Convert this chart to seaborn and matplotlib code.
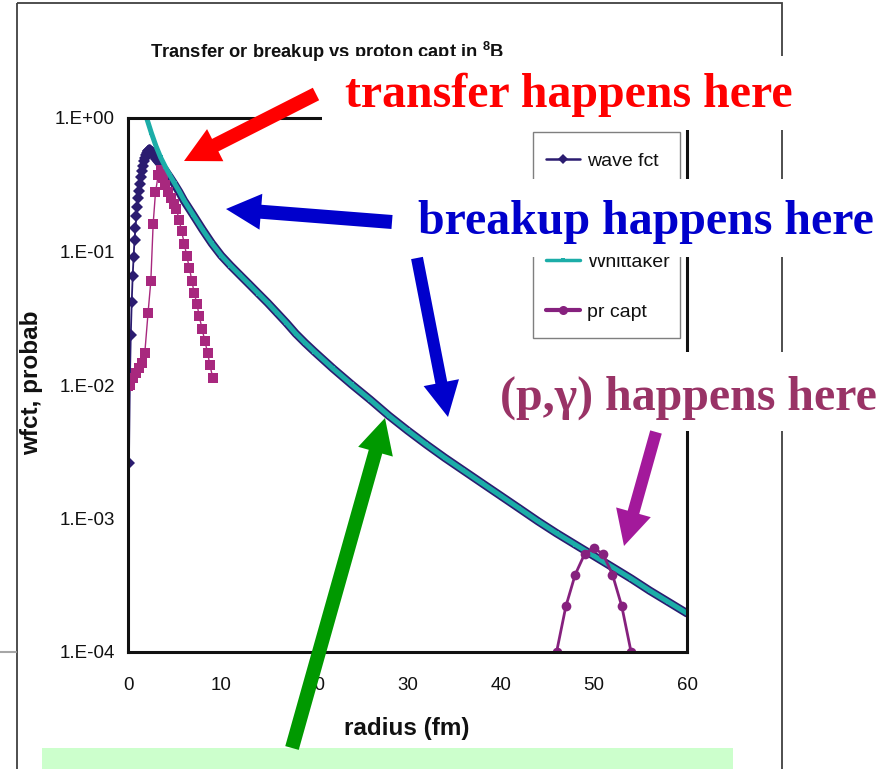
import numpy as np
import pandas as pd
import matplotlib
matplotlib.use("Agg")
import matplotlib.pyplot as plt
import seaborn as sns
from matplotlib.patches import Rectangle, FancyArrow
from matplotlib.lines import Line2D
from matplotlib.transforms import Affine2D

# ---- data -------------------------------------------------------------
# bound-state wave function (dense near the origin, coarser in the tail)
r_wave = [0.1, 0.2, 0.3, 0.4, 0.5, 0.6, 0.7, 0.8, 0.9, 1.0,
          1.1, 1.2, 1.3, 1.4, 1.5, 1.6, 1.7, 1.8, 1.9, 2.0,
          2.1, 2.2, 2.3, 2.4, 2.5, 2.6, 2.7, 2.8, 2.9, 3.0,
          3.5, 4.0, 4.5, 5.0, 5.5, 6, 7, 8, 9, 10, 11, 12, 13, 14, 15,
          16, 17, 18, 19, 20, 22, 24, 26, 28, 30, 32, 34, 36, 38, 40,
          42, 44, 46, 48, 50, 52, 54, 56, 58, 60]
wave_fct = [0.0026, 0.0105, 0.0237, 0.042, 0.065, 0.091, 0.122, 0.150, 0.183, 0.215,
            0.250, 0.285, 0.320, 0.360, 0.400, 0.440, 0.475, 0.505, 0.530, 0.550,
            0.562, 0.570, 0.575, 0.575, 0.570, 0.560, 0.545, 0.528, 0.510, 0.490,
            0.445, 0.405, 0.360, 0.318, 0.279, 0.241, 0.188, 0.146, 0.115, 0.0933,
            0.0785, 0.0668, 0.0569, 0.0484, 0.0412, 0.0347, 0.0292, 0.0243, 0.0207, 0.0178,
            0.0133, 0.0101, 0.00776, 0.00589, 0.00457, 0.00359, 0.00285, 0.00229, 0.00184,
            0.00148, 0.00119, 0.000955, 0.000776, 0.000638, 0.000525, 0.000432, 0.000355,
            0.000288, 0.000237, 0.000195]

# Whittaker asymptotic form
r_whit = [2.0, 2.5, 3.0, 3.5, 4.0, 4.5, 5.0, 5.5, 6, 7, 8, 9, 10, 11, 12, 13, 14, 15,
          16, 17, 18, 19, 20, 22, 24, 26, 28, 30, 32, 34, 36, 38, 40, 42, 44, 46,
          48, 50, 52, 54, 56, 58, 60]
whittaker = [1.00, 0.776, 0.617, 0.507, 0.432, 0.372, 0.324, 0.282, 0.243, 0.188,
             0.146, 0.115, 0.0933, 0.0785, 0.0668, 0.0569, 0.0484, 0.0412, 0.0347,
             0.0292, 0.0243, 0.0207, 0.0178, 0.0133, 0.0101, 0.00776, 0.00589,
             0.00457, 0.00359, 0.00285, 0.00229, 0.00184, 0.00148, 0.00119,
             0.000955, 0.000776, 0.000638, 0.000525, 0.000432, 0.000355, 0.000288,
             0.000237, 0.000195]

# transfer probability (inner region)
r_trans = [0.05, 0.2, 0.55, 0.85, 1.15, 1.45, 1.8, 2.15, 2.45, 2.7, 2.95, 3.25,
           3.5, 3.75, 4.0, 4.3, 4.6, 4.9, 5.2, 5.5, 5.75, 6.05, 6.3, 6.6, 6.85,
           7.1, 7.4, 7.65, 7.95, 8.25, 8.55, 8.8, 9.1]
transfer_prob = [0.0098, 0.0100, 0.0112, 0.0122, 0.0133, 0.0147, 0.0173, 0.0345,
                 0.060, 0.161, 0.277, 0.377, 0.410, 0.355, 0.315, 0.280, 0.250,
                 0.227, 0.207, 0.172, 0.142, 0.114, 0.0925, 0.0748, 0.0604,
                 0.0491, 0.0404, 0.0327, 0.0263, 0.0214, 0.0173, 0.0140, 0.0113]

# proton capture probability (outer region)
r_capt = [45, 46, 47, 48, 49, 50, 51, 52, 53, 54, 55]
pr_capt = [3.9e-5, 1.0e-4, 2.2e-4, 3.8e-4, 5.4e-4, 6.0e-4, 5.4e-4, 3.8e-4, 2.2e-4,
           1.0e-4, 3.9e-5]

series_names = ["wave fct", "transfer prob", "Whittaker", "pr capt"]
x_ticks = [0, 10, 20, 30, 40, 50, 60]
y_ticks = [1e-4, 1e-3, 1e-2, 1e-1, 1e0]
y_tick_labels = ["1.E-04", "1.E-03", "1.E-02", "1.E-01", "1.E+00"]

# ---- style ------------------------------------------------------------
W, H = 896, 769
sns.set_theme(style="white")
plt.rcParams["font.family"] = ["Liberation Sans", "DejaVu Sans"]
plt.rcParams["mathtext.fontset"] = "custom"
plt.rcParams["mathtext.rm"] = "Liberation Sans"
plt.rcParams["mathtext.bf"] = "Liberation Sans:bold"

NAVY = "#2b1c70"
CYAN = "#1cada8"
MAGENTA = "#a8287e"
PURPLE = "#86217e"

fig = plt.figure(figsize=(W / 100, H / 100), dpi=100)
fig.patch.set_facecolor("white")
# pixel coordinates, origin at top-left
PX = Affine2D().scale(1 / W, -1 / H).translate(0, 1) + fig.transFigure

ax = fig.add_axes([128 / W, 1 - 652 / H, (687 - 128) / W, (652 - 118) / H])

wave_df = pd.DataFrame({"r": r_wave, "val": wave_fct})
whit_df = pd.DataFrame({"r": r_whit, "val": whittaker})
trans_df = pd.DataFrame({"r": r_trans, "val": transfer_prob})
capt_df = pd.DataFrame({"r": r_capt, "val": pr_capt})

common = dict(x="r", y="val", ax=ax, sort=False, estimator=None, legend=False)

# wave function: merged markers form a broad band once points crowd together
sns.lineplot(data=wave_df[wave_df.r >= 2.3], color=NAVY, lw=6.0,
             solid_capstyle="round", **common)
dense = list(np.flatnonzero(wave_df.r.values <= 3.0))
sns.lineplot(data=wave_df, color=NAVY, lw=1.3, marker="D", ms=6.5, mew=0,
             markevery=dense, **common)
sns.lineplot(data=trans_df, color=MAGENTA, lw=1.0, marker="s", ms=6.8, mew=0,
             **common)
sns.lineplot(data=whit_df, color=CYAN, lw=3.6, marker="s", ms=3.0, mew=0,
             **common)
sns.lineplot(data=capt_df, color=PURPLE, lw=2.0, marker="o", ms=7.0, mew=0,
             **common)

ax.set_yscale("log")
ax.set_xlim(0, 60)
ax.set_ylim(1e-4, 1e0)
ax.set_xticks(x_ticks)
ax.set_xticklabels([str(t) for t in x_ticks])
ax.set_yticks(y_ticks)
ax.set_yticklabels(y_tick_labels)
ax.yaxis.set_minor_locator(matplotlib.ticker.NullLocator())
ax.tick_params(axis="both", length=0, labelsize=13.5, colors="#111111")
ax.tick_params(axis="y", pad=9.5)
ax.tick_params(axis="x", pad=18)
ax.set_xlabel("")
ax.set_ylabel("")
for sp in ax.spines.values():
    sp.set_visible(True)
    sp.set_color("#111111")
    sp.set_linewidth(2.2)

# legend box drawn as its own patch so its size is fixed
ax.add_patch(Rectangle((533, 132), 147, 206, transform=PX, facecolor="white",
                       edgecolor="#7f7f7f", lw=1.0, clip_on=False, zorder=4))
handles = [
    Line2D([], [], color=NAVY, lw=1.8, marker="D", ms=5, mew=0),
    Line2D([], [], color=MAGENTA, lw=1.0, marker="s", ms=6, mew=0),
    Line2D([], [], color=CYAN, lw=2.5, marker="s", ms=3.5, mew=0),
    Line2D([], [], color=PURPLE, lw=3.0, marker="o", ms=6.5, mew=0),
]
leg = ax.legend(handles, series_names, loc="upper left",
                bbox_to_anchor=(533 / W, 1 - 140 / H),
                bbox_transform=fig.transFigure,
                frameon=False, fontsize=14,
                handlelength=1.75, handletextpad=0.4, labelspacing=1.68,
                borderpad=0.65, borderaxespad=0)
leg.set_zorder(5)
for t in leg.get_texts():
    t.set_color("#111111")

# ---- slide decorations ------------------------------------------------
fig.add_artist(Rectangle((17, 3), 765, 820, fill=False, edgecolor="#404040",
                         lw=1.3, transform=PX, zorder=0.5))
fig.add_artist(Line2D([0, 16], [652, 652], color="#a6a6a6", lw=1.5,
                      transform=PX, zorder=0.5))

fig.text(150, 58, r"Transfer or breakup vs proton capt in $^{\mathbf{8}}$B",
         transform=PX, fontsize=13.2, fontweight="bold",
         color="#111111", ha="left", va="baseline", zorder=0.6)

fig.text(407, 728, "radius (fm)", transform=PX, fontsize=17.5, fontweight="bold",
         color="#111111", ha="center", va="center")
fig.text(32, 383, "wfct, probab", transform=PX, fontsize=17.5, fontweight="bold",
         color="#111111", ha="center", va="center", rotation=90)

# white text boxes
for (x0, y0, x1, y1) in [(322, 56, 900, 130), (405, 179, 900, 257),
                         (495, 352, 900, 431)]:
    fig.add_artist(Rectangle((x0, y0), x1 - x0, y1 - y0, facecolor="white",
                             edgecolor="none", transform=PX, zorder=2))

fig.add_artist(Rectangle((42, 748), 691, 40, facecolor="#ccffcc",
                         edgecolor="none", transform=PX, zorder=2))

serif = ["Liberation Serif", "DejaVu Serif"]
fig.text(345, 107, "transfer happens here", transform=PX, fontsize=34.5,
         fontweight="bold", family=serif, color="#ff0000", ha="left",
         va="baseline", zorder=4)
fig.text(418, 234, "breakup happens here", transform=PX, fontsize=34.5,
         fontweight="bold", family=serif, color="#0000cc", ha="left",
         va="baseline", zorder=4)
fig.text(500, 410, "(p,\u03b3) happens here", transform=PX, fontsize=34.5,
         fontweight="bold", family=serif, color="#993366", ha="left",
         va="baseline", zorder=4)


def arrow(tail, tip, color, shaft=14, head_w=36, head_l=35):
    fig.add_artist(FancyArrow(tail[0], tail[1], tip[0] - tail[0], tip[1] - tail[1],
                              width=shaft, head_width=head_w, head_length=head_l,
                              length_includes_head=True, color=color, lw=0,
                              transform=PX, zorder=3))


arrow((316, 94), (184, 161), "#ff0000", shaft=14)
arrow((392, 222), (226, 209), "#0000cc", shaft=14)
arrow((417, 258), (448, 417), "#0000cc", shaft=12)
arrow((656, 432), (624, 546), "#a3199b", shaft=12)
arrow((292, 748), (385, 418), "#009900", shaft=14)

fig.savefig("out.png", dpi=100)
